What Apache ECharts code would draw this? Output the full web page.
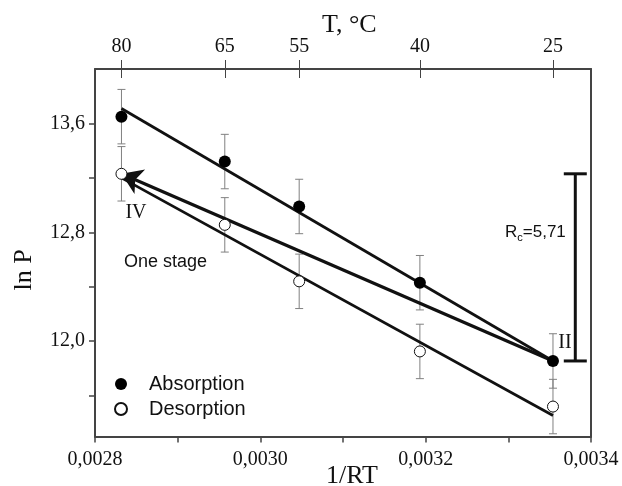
<!DOCTYPE html>
<html>
<head>
<meta charset="utf-8">
<script src="https://cdn.jsdelivr.net/npm/echarts@6/dist/echarts.min.js"></script>
<style>html,body{margin:0;padding:0;background:#fff}#c{width:622px;height:486px}</style>
</head>
<body>
<div id="c"></div>
<script>
// ---- data ----
const invT = [0.002832, 0.002957, 0.003047, 0.003193, 0.003354];   // 1/RT axis values of the points
const absorption = [13.65, 13.32, 12.99, 12.43, 11.855];
const desorption = [13.23, 12.855, 12.44, 11.925, 11.52];
const absErr = [0.2, 0.2, 0.2, 0.2, 0.2];
const desErr = [0.2, 0.2, 0.2, 0.2, 0.2];
const absFit = [[0.002832, 13.71], [0.003354, 11.855]];
const desFit = [[0.002832, 13.20], [0.003354, 11.455]];
const arrowLine = [[0.003354, 11.855], [0.002832, 13.23]];
const rcBar = [[0.003381, 11.855, 13.23]];
const xTicks = [0.0028, 0.0029, 0.0030, 0.0031, 0.0032, 0.0033, 0.0034];
const xLabels = [0.0028, 0.0030, 0.0032, 0.0034];
const yTicks = [11.6, 12.0, 12.4, 12.8, 13.2, 13.6];
const yLabels = [12.0, 12.8, 13.6];
const tempLabels = ['80', '65', '55', '40', '25'];
const tempPos = [0.002832, 0.002957, 0.003047, 0.003193, 0.003354];

const serif = 'Liberation Serif';
const sans = 'Liberation Sans';
const axisColor = '#444';

const chart = echarts.init(document.getElementById('c'));

function pairs(xs, ys, es) { return xs.map((x, i) => es ? [x, ys[i], es[i]] : [x, ys[i]]); }

function errRender(params, api) {
  const x = api.value(0), y = api.value(1), e = api.value(2);
  const t = api.coord([x, y + e]), b = api.coord([x, y - e]);
  const w = 4;
  const st = { stroke: '#808080', lineWidth: 1 };
  return { type: 'group', children: [
    { type: 'line', shape: { x1: t[0], y1: t[1], x2: b[0], y2: b[1] }, style: st },
    { type: 'line', shape: { x1: t[0] - w, y1: t[1], x2: t[0] + w, y2: t[1] }, style: st },
    { type: 'line', shape: { x1: b[0] - w, y1: b[1], x2: b[0] + w, y2: b[1] }, style: st }
  ]};
}

function rcRender(params, api) {
  const x = api.value(0);
  const lo = api.coord([x, api.value(1)]), hi = api.coord([x, api.value(2)]);
  const w = 11.5;
  const st = { stroke: '#111', lineWidth: 3 };
  return { type: 'group', children: [
    { type: 'line', shape: { x1: lo[0], y1: lo[1], x2: hi[0], y2: hi[1] }, style: st },
    { type: 'line', shape: { x1: hi[0] - w, y1: hi[1], x2: hi[0] + w, y2: hi[1] }, style: st },
    { type: 'line', shape: { x1: lo[0] - w, y1: lo[1], x2: lo[0] + w, y2: lo[1] }, style: st }
  ]};
}

const option = {
  animation: false,
  backgroundColor: '#fff',
  grid: { left: 95, top: 69, width: 496, height: 367.5 },
  xAxis: [
    {
      type: 'value', position: 'bottom', min: 0.0028, max: 0.0034,
      axisLine: { show: true, onZero: false, lineStyle: { color: axisColor, width: 2 } },
      axisTick: { show: true, inside: false, length: 6, customValues: xTicks, lineStyle: { color: axisColor, width: 1.5 } },
      axisLabel: { show: true, customValues: xLabels, margin: 13, fontFamily: serif, fontSize: 20, color: '#111',
        formatter: v => v.toFixed(4).replace('.', ',') },
      splitLine: { show: false }
    },
    {
      type: 'value', position: 'top', min: 0.0028, max: 0.0034,
      axisLine: { show: true, onZero: false, lineStyle: { color: axisColor, width: 2 } },
      axisTick: { show: true, inside: false, length: 9, customValues: tempPos, lineStyle: { color: axisColor, width: 1 } },
      axisLabel: { show: true, customValues: tempPos, margin: 12, fontFamily: serif, fontSize: 20, color: '#111',
        formatter: v => { let k = 0, d = 1; tempPos.forEach((p, i) => { if (Math.abs(p - v) < d) { d = Math.abs(p - v); k = i; } }); return tempLabels[k]; } },
      splitLine: { show: false }
    },
    {
      type: 'value', position: 'top', min: 0.0028, max: 0.0034,
      axisLine: { show: false },
      axisTick: { show: true, inside: true, length: 9, customValues: tempPos, lineStyle: { color: axisColor, width: 1 } },
      axisLabel: { show: false },
      splitLine: { show: false }
    }
  ],
  yAxis: [
    {
      type: 'value', position: 'left', min: 11.3, max: 14.0,
      axisLine: { show: true, onZero: false, lineStyle: { color: axisColor, width: 2 } },
      axisTick: { show: true, inside: false, length: 6, customValues: yTicks, lineStyle: { color: axisColor, width: 1.5 } },
      axisLabel: { show: true, customValues: yLabels, margin: 10, fontFamily: serif, fontSize: 20, color: '#111',
        formatter: v => v.toFixed(1).replace('.', ',') },
      splitLine: { show: false }
    },
    {
      type: 'value', position: 'right', min: 11.3, max: 14.0,
      axisLine: { show: true, onZero: false, lineStyle: { color: axisColor, width: 2 } },
      axisTick: { show: false }, axisLabel: { show: false }, splitLine: { show: false }
    }
  ],
  legend: {
    orient: 'vertical', left: 109, top: 369, itemWidth: 46, itemHeight: 12, itemGap: 5,
    icon: 'circle',
    textStyle: { fontFamily: sans, fontSize: 20, color: '#111', lineHeight: 20 },
    data: ['Absorption', 'Desorption']
  },
  series: [
    { type: 'custom', name: 'absErr', renderItem: errRender, data: pairs(invT, absorption, absErr), z: 1, silent: true },
    { type: 'custom', name: 'desErr', renderItem: errRender, data: pairs(invT, desorption, desErr), z: 1, silent: true },
    { type: 'line', name: 'absFit', data: absFit, showSymbol: false, symbol: 'none', lineStyle: { color: '#111', width: 2.8 }, z: 2 },
    { type: 'line', name: 'desFit', data: desFit, showSymbol: false, symbol: 'none', lineStyle: { color: '#111', width: 2.8 }, z: 2 },
    { type: 'lines', name: 'arrow', coordinateSystem: 'cartesian2d', symbol: ['none', 'arrow'], symbolSize: [13, 20],
      lineStyle: { color: '#111', width: 3.2, opacity: 1 }, data: [{ coords: arrowLine }], z: 2 },
    { type: 'custom', name: 'Rc', renderItem: rcRender, data: rcBar, z: 2, silent: true },
    { type: 'scatter', name: 'Absorption', data: pairs(invT, absorption), symbol: 'circle', symbolSize: 12,
      itemStyle: { color: '#000', opacity: 1 }, z: 3 },
    { type: 'scatter', name: 'Desorption', data: pairs(invT, desorption), symbol: 'circle', symbolSize: 11,
      itemStyle: { color: '#fff', borderColor: '#111', borderWidth: 1, opacity: 1 }, z: 3 }
  ],
  graphic: [
    { type: 'text', left: 322, top: 12, style: { text: 'T, °C', fontFamily: serif, fontSize: 26, fill: '#111' } },
    { type: 'text', x: 24, y: 270, rotation: Math.PI / 2, style: { text: 'ln P', fontFamily: serif, fontSize: 26, fill: '#111', textAlign: 'center', textVerticalAlign: 'middle' } },
    { type: 'text', x: 352, y: 476, style: { text: '1/RT', fontFamily: serif, fontSize: 26, fill: '#111', textAlign: 'center', textVerticalAlign: 'middle' } },
    { type: 'text', x: 136, y: 213, style: { text: 'IV', fontFamily: serif, fontSize: 20, fill: '#111', textAlign: 'center', textVerticalAlign: 'middle' } },
    { type: 'text', x: 565, y: 343, style: { text: 'II', fontFamily: serif, fontSize: 20, fill: '#111', textAlign: 'center', textVerticalAlign: 'middle' } },
    { type: 'text', x: 124, y: 262, style: { text: 'One stage', fontFamily: sans, fontSize: 18, fill: '#111', textVerticalAlign: 'middle' } },
    { type: 'text', x: 505, y: 232, style: {
        text: '{a|R}{b|c}{a|=5,71}', textVerticalAlign: 'middle',
        rich: { a: { fontFamily: sans, fontSize: 17, fill: '#111', color: '#111' },
                b: { fontFamily: sans, fontSize: 11, color: '#111', padding: [12, 0, 0, 0] } } } }
  ]
};
chart.setOption(option);
</script>
</body>
</html>
